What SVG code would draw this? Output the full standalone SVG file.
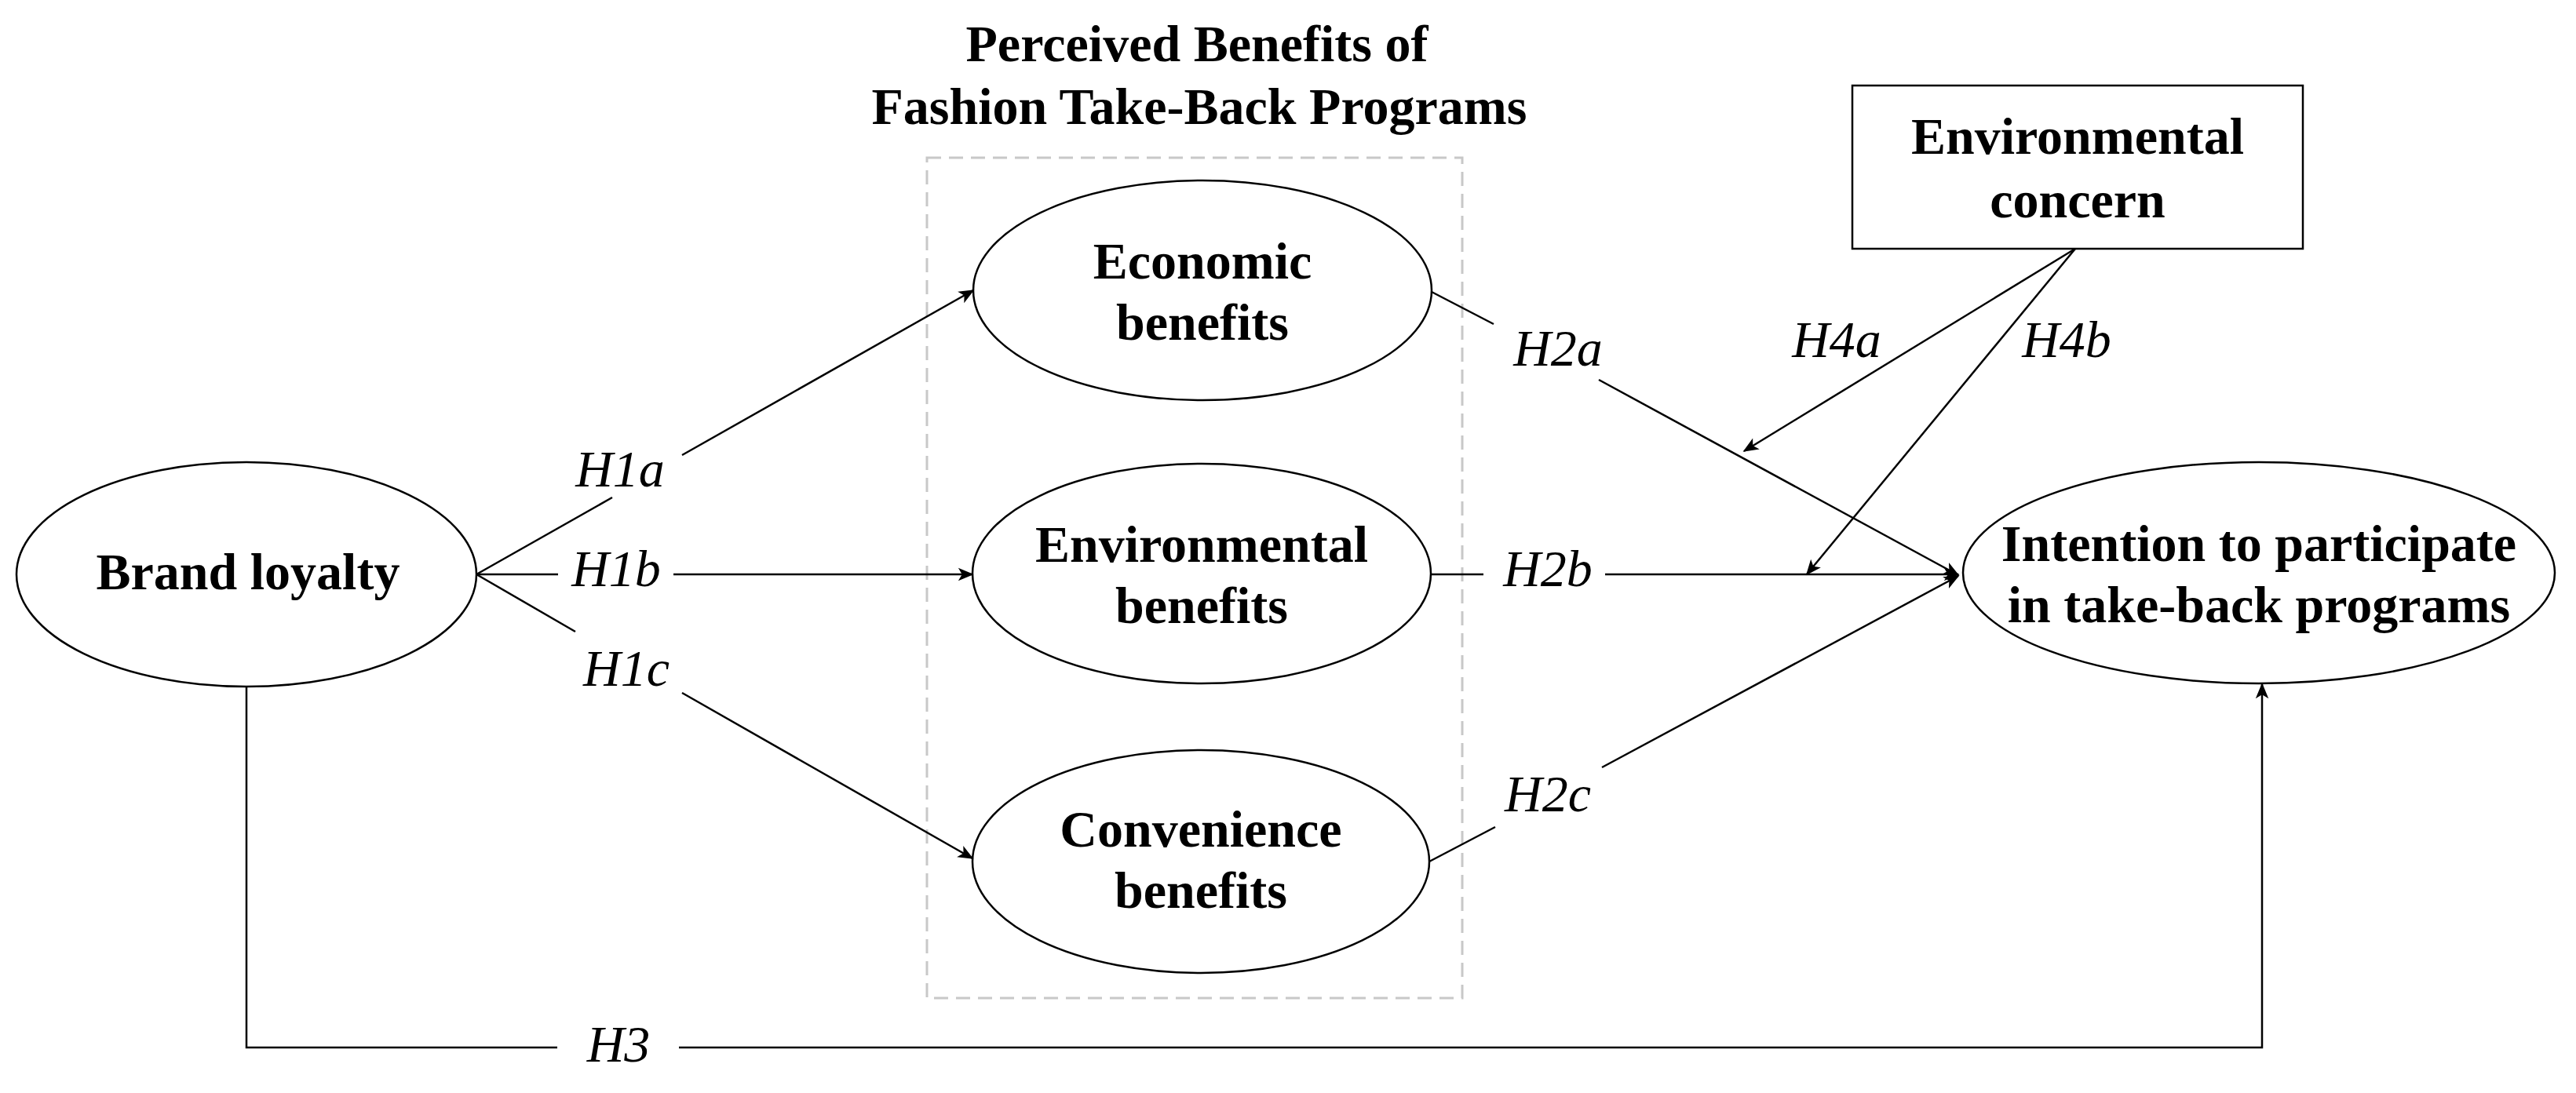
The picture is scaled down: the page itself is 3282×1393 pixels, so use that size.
<svg xmlns="http://www.w3.org/2000/svg" width="3282" height="1393" viewBox="0 0 3282 1393">
<style>
.n{fill:#fff;stroke:#000;stroke-width:2.5}
.t{font-family:"Liberation Serif",serif;font-weight:bold;font-size:66px;text-anchor:middle}
.l{font-family:"Liberation Serif",serif;font-style:italic;font-size:66px;text-anchor:middle}
.c{fill:none;stroke:#000;stroke-width:2.5}
</style>
<defs>
<marker id="a" viewBox="0 0 12 10" refX="11" refY="5" markerWidth="9" markerHeight="8" markerUnits="userSpaceOnUse" orient="auto" style="overflow:visible">
<path d="M0,0 L12,5 L0,10 L3,5 z" fill="#000" transform="scale(2.2) translate(-6,-2.7)"/>
</marker>
</defs>
<rect width="3282" height="1393" fill="#fff"/>
<g id="group-perceived">
<rect x="1181" y="201" width="682" height="1071" fill="none" stroke="#c8c8c8" stroke-width="3" stroke-dasharray="18,10"/>
<text class="t" x="1525" y="78">Perceived Benefits of</text>
<text class="t" x="1528" y="158">Fashion Take-Back Programs</text>
</g>
<g id="brand"><ellipse class="n" cx="314" cy="732" rx="293" ry="143"/><text class="t" x="316" y="751">Brand loyalty</text></g>
<g id="economic"><ellipse class="n" cx="1532" cy="370" rx="292" ry="140"/><text class="t" x="1532" y="355">Economic</text><text class="t" x="1532" y="433">benefits</text></g>
<g id="environmental"><ellipse class="n" cx="1531" cy="731" rx="292" ry="140"/><text class="t" x="1531" y="716">Environmental</text><text class="t" x="1531" y="794">benefits</text></g>
<g id="convenience"><ellipse class="n" cx="1530" cy="1098" rx="291" ry="142"/><text class="t" x="1530" y="1079">Convenience</text><text class="t" x="1530" y="1157">benefits</text></g>
<g id="intention"><ellipse class="n" cx="2878" cy="730" rx="377" ry="141"/><text class="t" x="2878" y="715">Intention to participate</text><text class="t" x="2878" y="793">in take-back programs</text></g>
<g id="concern"><rect class="n" x="2360" y="109" width="574" height="208"/><text class="t" x="2647" y="196">Environmental</text><text class="t" x="2647" y="277">concern</text></g>
<g id="connectors">
<path class="c" d="M607,732 L780,634 M869,580 L1240,370" marker-end="url(#a)"/>
<path class="c" d="M607,732 L711,732 M858,732 L1239,732" marker-end="url(#a)"/>
<path class="c" d="M607,732 L733,805 M869,883 L1239,1094" marker-end="url(#a)"/>
<path class="c" d="M1824,372 L1903,413 M2037,484 L2495,733" marker-end="url(#a)"/>
<path class="c" d="M1822,732 L1890,732 M2045,732 L2495,732" marker-end="url(#a)"/>
<path class="c" d="M1821,1098 L1905,1054 M2041,978 L2495,734" marker-end="url(#a)"/>
<path class="c" d="M314,875 L314,1335 L710,1335 M865,1335 L2882,1335 L2882,872" marker-end="url(#a)"/>
<path class="c" d="M2644,317 L2222,575" marker-end="url(#a)"/>
<path class="c" d="M2644,317 L2302,732" marker-end="url(#a)"/>
<text class="l" x="790" y="620">H1a</text>
<text class="l" x="785" y="747">H1b</text>
<text class="l" x="798" y="874">H1c</text>
<text class="l" x="1985" y="466">H2a</text>
<text class="l" x="1972" y="747">H2b</text>
<text class="l" x="1972" y="1034">H2c</text>
<text class="l" x="788" y="1353">H3</text>
<text class="l" x="2340" y="455">H4a</text>
<text class="l" x="2633" y="455">H4b</text>
</g>
</svg>
